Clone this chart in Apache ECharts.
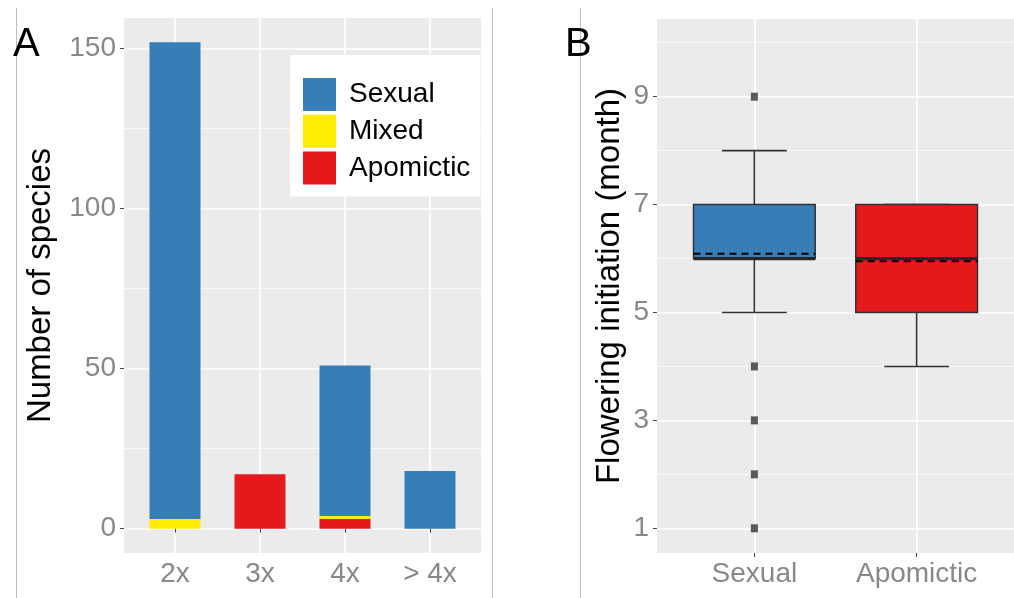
<!DOCTYPE html>
<html>
<head>
<meta charset="utf-8">
<script src="https://cdn.jsdelivr.net/npm/echarts@6/dist/echarts.min.js"></script>
<style>
html,body{margin:0;padding:0;background:#fff;}
#chart{width:1014px;height:598px;}
</style>
</head>
<body>
<div id="chart"></div>
<script>
// ---------- data ----------
const ploidyCategories = ['2x', '3x', '4x', '> 4x'];
const sexualCounts = [149, 0, 47, 18];
const mixedCounts = [3, 0, 1, 0];
const apomicticCounts = [0, 17, 3, 0];
const countTicks = [0, 50, 100, 150];
const countMinorTicks = [25, 75, 125];

const boxCategories = ['Sexual', 'Apomictic'];
const boxLow = [5, 4];
const boxQ1 = [6, 5];
const boxMedian = [6, 6];
const boxQ3 = [7, 7];
const boxHigh = [8, 7];
const boxMean = [6.09, 5.95];
const sexualOutliers = [9, 4, 3, 2, 1];
const monthTicks = [1, 3, 5, 7, 9];
const monthMinorTicks = [2, 4, 6, 8, 10];

// ---------- styles ----------
const COL_SEX = '#377EB8', COL_MIX = '#FFED00', COL_APO = '#E41A1C';
const boxColors = [COL_SEX, COL_APO];
const PANEL = '#EBEBEB';
const TICK_COLOR = '#888888';
const FONT = '"Liberation Sans", Arial, Helvetica, sans-serif';

// build stacked segments (bottom: Apomictic, Mixed, Sexual)
function segs(vals, below) {
  return vals.map((v, i) => {
    const b = below.reduce((s, arr) => s + arr[i], 0);
    return [i + 1, b, b + v];
  });
}
const apoSegs = segs(apomicticCounts, []);
const mixSegs = segs(mixedCounts, [apomicticCounts]);
const sexSegs = segs(sexualCounts, [apomicticCounts, mixedCounts]);

function barRender(params, api) {
  const x = api.value(0), y0 = api.value(1), y1 = api.value(2);
  if (y1 - y0 <= 0) return null;
  const p0 = api.coord([x - 0.3, y1]);
  const p1 = api.coord([x + 0.3, y0]);
  return {
    type: 'rect',
    shape: { x: p0[0], y: p0[1], width: p1[0] - p0[0], height: p1[1] - p0[1] },
    style: { fill: api.visual('color') }
  };
}

function boxRender(params, api) {
  const x = api.value(0);
  const lo = api.value(1), q1 = api.value(2), med = api.value(3),
        q3 = api.value(4), hi = api.value(5), mean = api.value(6);
  const hw = 0.375, cw = 0.2;
  const c = (xx, yy) => api.coord([xx, yy]);
  const line = (a, b, style) => ({
    type: 'line', shape: { x1: a[0], y1: a[1], x2: b[0], y2: b[1] }, style
  });
  const wStyle = { stroke: '#333', lineWidth: 1.6 };
  const tl = c(x - hw, q3), br = c(x + hw, q1);
  return {
    type: 'group',
    children: [
      line(c(x, q3), c(x, hi), wStyle),
      line(c(x, q1), c(x, lo), wStyle),
      line(c(x - cw, hi), c(x + cw, hi), wStyle),
      line(c(x - cw, lo), c(x + cw, lo), wStyle),
      { type: 'rect',
        shape: { x: tl[0], y: tl[1], width: br[0] - tl[0], height: br[1] - tl[1] },
        style: { fill: boxColors[params.dataIndex], stroke: '#333', lineWidth: 1.5 } },
      line(c(x - hw, med), c(x + hw, med), { stroke: '#262626', lineWidth: 3.2 }),
      line(c(x - hw, mean), c(x + hw, mean), { stroke: '#000', lineWidth: 2, lineDash: [7, 5] })
    ]
  };
}

const boxData = boxCategories.map((n, i) =>
  [i + 1, boxLow[i], boxQ1[i], boxMedian[i], boxQ3[i], boxHigh[i], boxMean[i]]);
const outlierData = sexualOutliers.map(v => [1, v]);

const majorLine = { show: true, lineStyle: { color: '#FFFFFF', width: 1.6 } };
const minorLine = { show: true, lineStyle: { color: '#FFFFFF', width: 0.7 } };
const tickStyle = { show: true, length: 4, lineStyle: { color: '#444', width: 1 } };
const labelStyle = { color: TICK_COLOR, fontSize: 28, fontFamily: FONT };
const titleStyle = { color: '#000', fontSize: 33, fontFamily: FONT };

const chart = echarts.init(document.getElementById('chart'), null, { renderer: 'canvas' });
chart.setOption({
  backgroundColor: '#fff',
  animation: false,
  textStyle: { fontFamily: FONT },
  grid: [
    { left: 124, top: 18, width: 357, height: 535, show: true, backgroundColor: PANEL, borderWidth: 0 },
    { left: 657, top: 19, width: 357, height: 534, show: true, backgroundColor: PANEL, borderWidth: 0 }
  ],
  xAxis: [
    { gridIndex: 0, type: 'value', min: 0.4, max: 4.6,
      axisLine: { show: false },
      axisTick: Object.assign({ customValues: [1, 2, 3, 4] }, tickStyle),
      axisLabel: Object.assign({ customValues: [1, 2, 3, 4], margin: 7,
        formatter: v => ploidyCategories[Math.round(v) - 1] }, labelStyle),
      splitLine: majorLine },
    { gridIndex: 1, type: 'value', min: 0.4, max: 2.6,
      axisLine: { show: false },
      axisTick: Object.assign({ customValues: [1, 2] }, tickStyle),
      axisLabel: Object.assign({ customValues: [1, 2], margin: 7,
        formatter: v => boxCategories[Math.round(v) - 1] }, labelStyle),
      splitLine: majorLine }
  ],
  yAxis: [
    { gridIndex: 0, type: 'value', min: -7.6, max: 159.6,
      name: 'Number of species', nameLocation: 'middle', nameGap: 67, nameRotate: 90,
      nameTextStyle: titleStyle,
      axisLine: { show: false },
      axisTick: Object.assign({ customValues: countTicks }, tickStyle),
      axisLabel: Object.assign({ customValues: countTicks, margin: 8 }, labelStyle),
      splitLine: majorLine },
    { gridIndex: 0, type: 'value', min: -7.6, max: 159.6, position: 'left',
      axisLine: { show: false },
      axisTick: { show: false, customValues: countMinorTicks },
      axisLabel: { show: false, customValues: countMinorTicks },
      splitLine: minorLine },
    { gridIndex: 1, type: 'value', min: 0.542, max: 10.44,
      name: 'Flowering initiation (month)', nameLocation: 'middle', nameGap: 31, nameRotate: 90,
      nameTextStyle: titleStyle,
      axisLine: { show: false },
      axisTick: Object.assign({ customValues: monthTicks }, tickStyle),
      axisLabel: Object.assign({ customValues: monthTicks, margin: 8 }, labelStyle),
      splitLine: majorLine },
    { gridIndex: 1, type: 'value', min: 0.542, max: 10.44, position: 'left',
      axisLine: { show: false },
      axisTick: { show: false, customValues: monthMinorTicks },
      axisLabel: { show: false, customValues: monthMinorTicks },
      splitLine: minorLine }
  ],
  legend: {
    data: ['Sexual', 'Mixed', 'Apomictic'],
    orient: 'vertical', left: 290, top: 55,
    backgroundColor: '#fff',
    padding: [23, 10, 12, 13],
    itemWidth: 33, itemHeight: 33, itemGap: 3.7,
    icon: 'rect', selectedMode: false,
    textStyle: { color: '#000', fontSize: 28, fontFamily: FONT, padding: [0, 0, 0, 8] }
  },
  series: [
    { name: 'Apomictic', type: 'custom', xAxisIndex: 0, yAxisIndex: 0,
      itemStyle: { color: COL_APO }, renderItem: barRender, encode: { x: 0, y: [1, 2] }, data: apoSegs },
    { name: 'Mixed', type: 'custom', xAxisIndex: 0, yAxisIndex: 0,
      itemStyle: { color: COL_MIX }, renderItem: barRender, encode: { x: 0, y: [1, 2] }, data: mixSegs },
    { name: 'Sexual', type: 'custom', xAxisIndex: 0, yAxisIndex: 0,
      itemStyle: { color: COL_SEX }, renderItem: barRender, encode: { x: 0, y: [1, 2] }, data: sexSegs },
    { name: 'Flowering', type: 'custom', xAxisIndex: 1, yAxisIndex: 2,
      renderItem: boxRender, encode: { x: 0, y: [1, 2, 3, 4, 5, 6] }, data: boxData },
    { name: 'Outliers', type: 'scatter', xAxisIndex: 1, yAxisIndex: 2,
      symbol: 'rect', symbolSize: [7, 8], itemStyle: { color: '#333' }, data: outlierData }
  ],
  graphic: [
    { type: 'line', shape: { x1: 16.5, y1: 8, x2: 16.5, y2: 598 }, style: { stroke: '#BDBDBD', lineWidth: 1 }, z: 0 },
    { type: 'line', shape: { x1: 492.5, y1: 8, x2: 492.5, y2: 598 }, style: { stroke: '#BDBDBD', lineWidth: 1 }, z: 0 },
    { type: 'line', shape: { x1: 580.5, y1: 8, x2: 580.5, y2: 598 }, style: { stroke: '#BDBDBD', lineWidth: 1 }, z: 0 },
    { type: 'text', left: 13, top: 25, z: 10, style: { text: 'A', fontSize: 40, fill: '#000', font: '40px ' + FONT } },
    { type: 'text', left: 565, top: 25, z: 10, style: { text: 'B', fontSize: 40, fill: '#000', font: '40px ' + FONT } }
  ]
});
</script>
</body>
</html>
